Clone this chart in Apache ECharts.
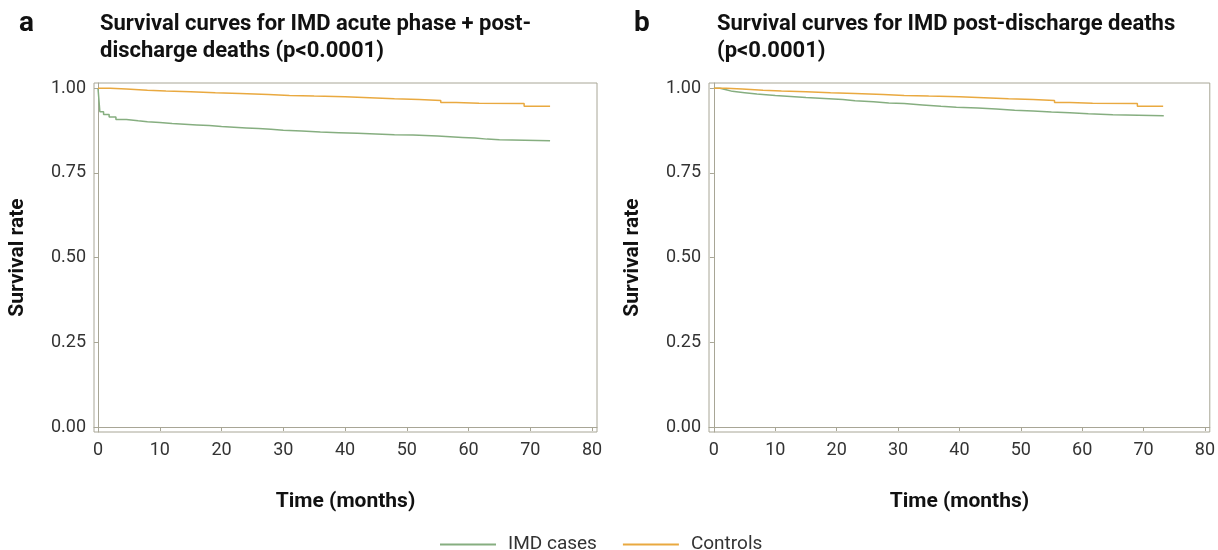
<!DOCTYPE html>
<html>
<head>
<meta charset="utf-8">
<script src="https://cdn.jsdelivr.net/npm/echarts@6/dist/echarts.min.js"></script>
<style>
html,body{margin:0;padding:0;background:#fff;}
#c{width:1218px;height:550px;}
</style>
</head>
<body>
<div id="c"></div>
<script>
// ---- Data ----
const xTicks = [0, 10, 20, 30, 40, 50, 60, 70, 80];
const yTicks = [0, 0.25, 0.5, 0.75, 1.0];
const seriesNames = ['IMD cases', 'Controls'];
const panelLetters = ['a', 'b'];
const panelTitles = [
  'Survival curves for IMD acute phase + post-\ndischarge deaths (p<0.0001)',
  'Survival curves for IMD post-discharge deaths\n(p<0.0001)'
];
// Panel a: IMD cases (acute phase + post-discharge deaths), [months, survival]
const imdAcutePost = [
  [0,1],[0.3,0.931],[0.9,0.923],[1.8,0.915],[2.9,0.908],[4.6,0.904],[6.5,0.901],[8,0.899],
  [10,0.896],[12,0.894],[14,0.892],[16,0.890],[18,0.887],[20,0.885],[22,0.883],[24,0.881],
  [26,0.879],[28,0.876],[30,0.874],[33,0.871],[36,0.869],[39,0.867],[42,0.865],[45,0.863],
  [48,0.862],[51,0.861],[53,0.859],[55,0.857],[57,0.855],[59,0.853],[61,0.850],[63,0.848],
  [65,0.845],[73.2,0.845]
];
// Controls (same in both panels)
const controls = [
  [0,1],[2,0.998],[4.6,0.994],[8,0.992],[11,0.990],[15,0.987],[19,0.985],[23,0.982],
  [27.6,0.979],[31,0.977],[35,0.975],[40,0.972],[44,0.969],[48,0.967],[52,0.964],
  [55.5,0.958],[58,0.956],[61.7,0.955],[69,0.947],[73.2,0.947]
];
// Panel b: IMD cases (post-discharge deaths)
const imdPost = [
  [0,1],[1,0.996],[2,0.991],[3,0.987],[5,0.983],[7,0.979],[10,0.976],[12.5,0.973],
  [15,0.970],[18,0.967],[21,0.963],[23,0.960],[26,0.957],[28.5,0.955],[31,0.951],[34,0.947],
  [37,0.944],[39.5,0.942],[43,0.939],[46,0.935],[49,0.933],[52,0.930],[55,0.928],[58,0.925],
  [61,0.922],[65,0.919],[73.3,0.919]
];

// ---- Style ----
const FONT = 'Roboto';
const frameColor = '#a8a696';
const green = '#86ae80';
const orange = '#e9a940';
const textColor = '#333';

function xAxis(gi, min, max) {
  return {
    type: 'value', gridIndex: gi, min: min, max: max,
    name: 'Time (months)', nameLocation: 'middle', nameGap: 59,
    nameTextStyle: {fontFamily: FONT, fontWeight: 'bold', fontSize: 21, color: '#111'},
    axisLine: {show: true, lineStyle: {color: frameColor}},
    axisTick: {show: true, length: 4, lineStyle: {color: frameColor}, customValues: xTicks},
    axisLabel: {fontFamily: FONT, fontSize: 18, color: textColor, margin: 9, customValues: xTicks},
    splitLine: {show: false}
  };
}
function yAxis(gi) {
  return {
    type: 'value', gridIndex: gi, min: -0.0147, max: 1.0157,
    name: 'Survival rate', nameLocation: 'middle', nameGap: 66, nameRotate: 90,
    nameTextStyle: {fontFamily: FONT, fontWeight: 'bold', fontSize: 21, color: '#111'},
    axisLine: {show: true, lineStyle: {color: frameColor}},
    axisTick: {show: true, length: 4, lineStyle: {color: frameColor}, customValues: yTicks},
    axisLabel: {fontFamily: FONT, fontSize: 18, color: textColor, margin: 8, customValues: yTicks,
      formatter: v => v.toFixed(2)},
    splitLine: {show: false}
  };
}
function line(name, gi, data, color) {
  return {
    type: 'line', name: name, xAxisIndex: gi, yAxisIndex: gi, data: data,
    step: 'end', showSymbol: false, symbol: 'none',
    lineStyle: {color: color, width: 1.5}, itemStyle: {color: color}
  };
}

const chart = echarts.init(document.getElementById('c'), null, {renderer: 'canvas'});
chart.setOption({
  animation: false,
  backgroundColor: '#fff',
  title: [
    {text: panelLetters[0], left: 14, top: 5, textStyle: {fontFamily: FONT, fontWeight: 'bold', fontSize: 28, color: '#111'}},
    {text: panelTitles[0], left: 95, top: 6, textStyle: {fontFamily: FONT, fontWeight: 'bold', fontSize: 22, lineHeight: 27, color: '#111'}},
    {text: panelLetters[1], left: 629, top: 5, textStyle: {fontFamily: FONT, fontWeight: 'bold', fontSize: 28, color: '#111'}},
    {text: panelTitles[1], left: 712, top: 6, textStyle: {fontFamily: FONT, fontWeight: 'bold', fontSize: 22, lineHeight: 27, color: '#111'}}
  ],
  grid: [
    {left: 94, top: 83, width: 503, height: 349, show: true, borderColor: frameColor, borderWidth: 1, containLabel: false},
    {left: 709, top: 83, width: 503, height: 349, show: true, borderColor: frameColor, borderWidth: 1, containLabel: false}
  ],
  xAxis: [xAxis(0, -0.65, 80.8), xAxis(1, -0.8, 80.8)],
  yAxis: [yAxis(0), yAxis(1)],
  legend: {
    data: seriesNames, left: 435, top: 530, itemWidth: 56, itemHeight: 2, itemGap: 26,
    icon: 'rect',
    textStyle: {fontFamily: FONT, fontSize: 19, color: textColor, padding: [0, 0, 0, 7]}
  },
  series: [
    line(seriesNames[0], 0, imdAcutePost, green),
    line(seriesNames[1], 0, controls, orange),
    line(seriesNames[0], 1, imdPost, green),
    line(seriesNames[1], 1, controls, orange)
  ]
});
</script>
</body>
</html>
